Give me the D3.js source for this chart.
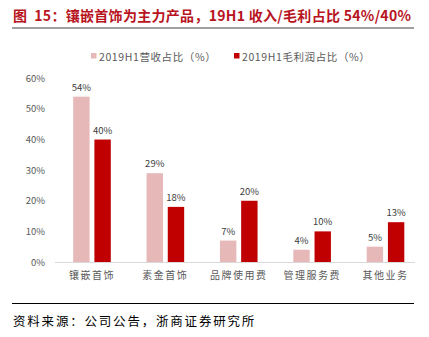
<!DOCTYPE html>
<html><head><meta charset="utf-8">
<script src="https://cdn.jsdelivr.net/npm/d3@7"></script>
<style>body{margin:0;background:#fff;}svg{display:block;}</style>
</head><body>
<svg id="c" width="429" height="337"></svg>
<script>
const title = "图  15：镶嵌首饰为主力产品，19H1 收入/毛利占比 54%/40%";
const source = "资料来源：公司公告，浙商证券研究所";
const categories = ["镶嵌首饰", "素金首饰", "品牌使用费", "管理服务费", "其他业务"];
const seriesNames = ["2019H1营收占比（%）", "2019H1毛利润占比（%）"];
const revenueShare = [54, 29, 7, 4, 5];
const grossProfitShare = [40, 18, 20, 10, 13];
const yTicks = [0, 10, 20, 30, 40, 50, 60];
const colors = ["#e6b8b7", "#c00000"];

const svg = d3.select("#c");
const sans = "'Noto Sans CJK SC', 'Noto Sans', sans-serif";

svg.append("text").attr("x", 13).attr("y", 20.5)
  .attr("font-family", sans).attr("font-weight", "bold").attr("font-size", 14)
  .attr("fill", "#b8141e").attr("xml:space", "preserve").style("white-space", "pre")
  .attr("letter-spacing", 0.3).text(title);
svg.append("line").attr("x1", 12).attr("x2", 414).attr("y1", 28).attr("y2", 28)
  .attr("stroke", "#808080").attr("stroke-width", 1.5);

const x = d3.scaleBand().domain(categories).range([55.3, 422.2]);
const y = d3.scaleLinear().domain([0, 60]).range([262, 78.3]);
const barW = 16.4, gap = 4.8;

// y axis labels
const yAxis = d3.axisLeft(y).tickValues(yTicks).tickFormat(d => d + "%").tickSize(0).tickPadding(0);
const gy = svg.append("g").attr("transform", "translate(45,0)").call(yAxis);
gy.select(".domain").remove();
gy.selectAll("text").attr("font-family", sans).attr("font-size", 9.5).attr("fill", "#595959");

// bars
const series = [revenueShare, grossProfitShare];
series.forEach((vals, si) => {
  const off = si === 0 ? -(barW + gap / 2) : gap / 2;
  svg.append("g").selectAll("rect").data(vals).join("rect")
    .attr("x", (d, i) => x(categories[i]) + x.bandwidth() / 2 + off)
    .attr("width", barW)
    .attr("y", d => y(d))
    .attr("height", d => y(0) - y(d))
    .attr("fill", colors[si]);
  svg.append("g").selectAll("text").data(vals).join("text")
    .attr("x", (d, i) => x(categories[i]) + x.bandwidth() / 2 + off + barW / 2)
    .attr("y", d => y(d) - 6)
    .attr("text-anchor", "middle")
    .attr("font-family", sans).attr("font-size", 9.5).attr("fill", "#404040")
    .text(d => d + "%");
});

// x axis
svg.append("line").attr("x1", 55).attr("x2", 415).attr("y1", 262.5).attr("y2", 262.5)
  .attr("stroke", "#d9d9d9").attr("stroke-width", 1);
const xAxis = d3.axisBottom(x).tickSize(0).tickPadding(0);
const gx = svg.append("g").attr("transform", "translate(0,279)").call(xAxis);
gx.select(".domain").remove();
gx.selectAll("text").attr("dy", 0).attr("font-family", sans).attr("font-size", 10)
  .attr("fill", "#595959").attr("letter-spacing", 1.5);

// legend
const legendX = [91, 234];
seriesNames.forEach((n, i) => {
  svg.append("rect").attr("x", legendX[i]).attr("y", 53).attr("width", 5.5).attr("height", 5.5).attr("fill", colors[i]);
  svg.append("text").attr("x", legendX[i] + 8).attr("y", 60.5)
    .attr("font-family", sans).attr("font-size", 10.5).attr("letter-spacing", 0.6)
    .attr("fill", "#595959").text(n);
});

// footer
svg.append("line").attr("x1", 12).attr("x2", 414).attr("y1", 303.5).attr("y2", 303.5)
  .attr("stroke", "#000").attr("stroke-width", 1);
svg.append("text").attr("x", 13).attr("y", 326)
  .attr("font-family", sans).attr("font-size", 12.5).attr("letter-spacing", 1.8)
  .attr("fill", "#000").text(source);
</script>
</body></html>
